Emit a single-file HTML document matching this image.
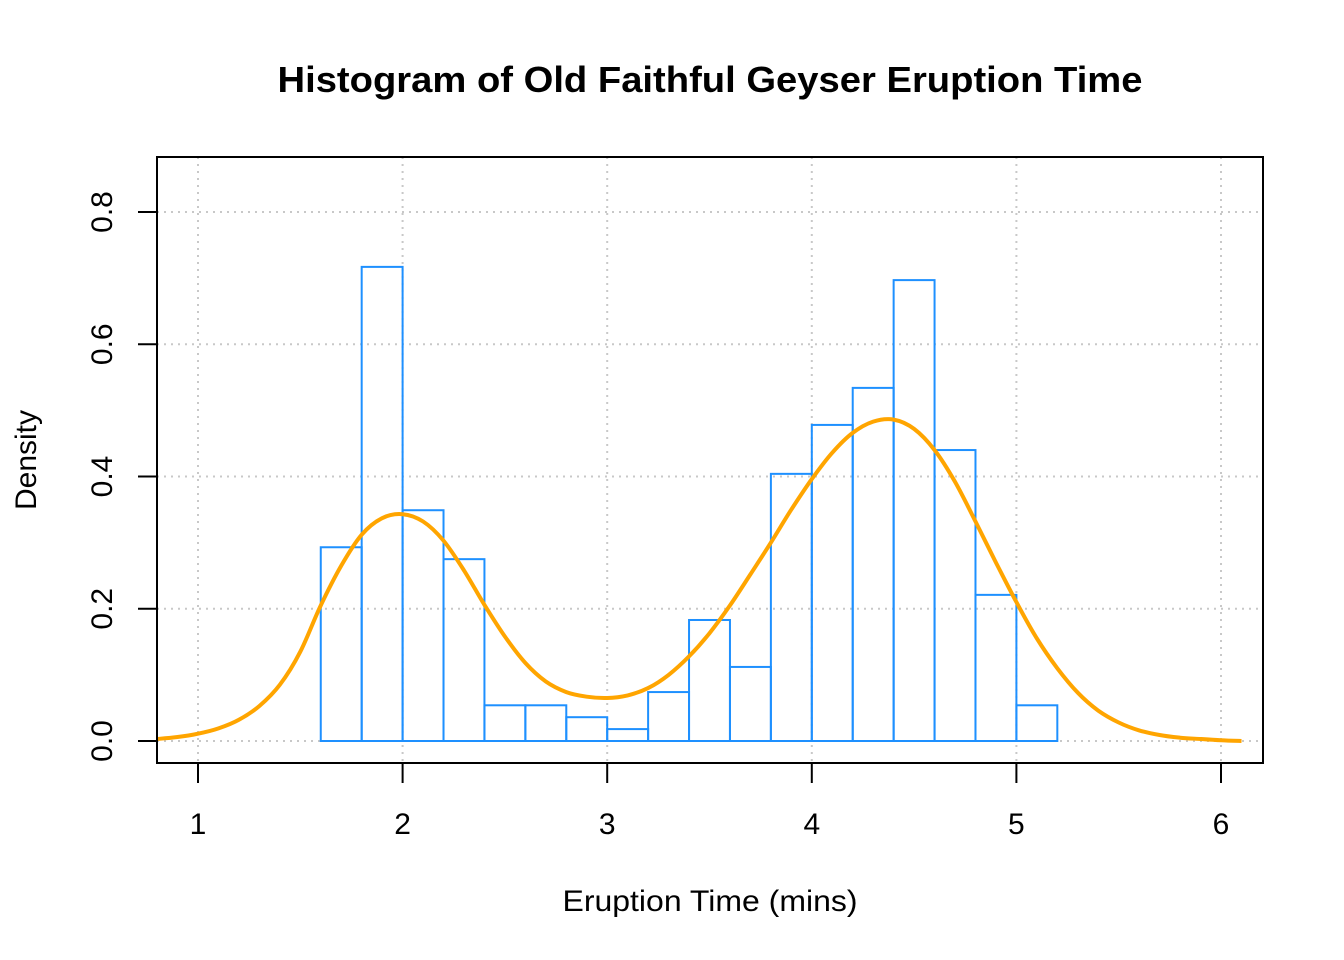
<!DOCTYPE html>
<html><head><meta charset="utf-8">
<style>
html,body{margin:0;padding:0;background:#fff;}
svg{display:block;font-family:"Liberation Sans",Arial,sans-serif;}
</style></head>
<body>
<svg id="chart" width="1344" height="960" viewBox="0 0 1344 960" xmlns="http://www.w3.org/2000/svg">
<text x="710" y="92" text-anchor="middle" font-size="36" font-weight="bold" textLength="865" lengthAdjust="spacingAndGlyphs">Histogram of Old Faithful Geyser Eruption Time</text>
<text x="710" y="911" text-anchor="middle" font-size="30" textLength="295" lengthAdjust="spacingAndGlyphs">Eruption Time (mins)</text>
<text transform="translate(36,460) rotate(-90)" text-anchor="middle" font-size="30">Density</text>
<g id="grid"></g>
<g id="bars"></g>
<g id="curve"></g>
<g id="axes"></g>
<rect x="157" y="157" width="1106" height="606" fill="none" stroke="#000" stroke-width="2"/>
</svg>
<script>
const binStarts = [1.6,1.8,2.0,2.2,2.4,2.6,2.8,3.0,3.2,3.4,3.6,3.8,4.0,4.2,4.4,4.6,4.8,5.0];
const binDensity = [0.293,0.717,0.349,0.275,0.054,0.054,0.036,0.018,0.074,0.183,0.112,0.404,0.478,0.534,0.697,0.440,0.221,0.054];
const binWidth = 0.2;
const curveX = [0.8,0.9,1.0,1.1,1.2,1.3,1.4,1.5,1.6,1.7,1.8,1.9,2.0,2.1,2.2,2.3,2.4,2.5,2.6,2.7,2.8,2.9,3.0,3.1,3.2,3.3,3.4,3.5,3.6,3.7,3.8,3.9,4.0,4.1,4.2,4.3,4.4,4.5,4.6,4.7,4.8,4.9,5.0,5.1,5.2,5.3,5.4,5.5,5.6,5.7,5.8,5.9,6.0,6.1];
const curveY = [0.003,0.006,0.011,0.019,0.032,0.053,0.085,0.135,0.205,0.265,0.312,0.337,0.343,0.332,0.303,0.258,0.206,0.158,0.118,0.090,0.074,0.067,0.065,0.069,0.080,0.100,0.128,0.163,0.205,0.252,0.300,0.350,0.396,0.436,0.466,0.483,0.486,0.472,0.440,0.392,0.332,0.270,0.210,0.155,0.110,0.073,0.046,0.028,0.016,0.009,0.005,0.003,0.001,0.000];
const xTicks = [1,2,3,4,5,6];
const yTicks = [0.0,0.2,0.4,0.6,0.8];
const yTickLabels = ["0.0","0.2","0.4","0.6","0.8"];

const NS="http://www.w3.org/2000/svg";
const sx = v => 198 + (v-1)*204.6;
const sy = v => 741 - v*661.25;
function mk(tag, attrs, parent){const e=document.createElementNS(NS,tag);for(const k in attrs)e.setAttribute(k,attrs[k]);parent.appendChild(e);return e;}
const grid=document.getElementById('grid'), bars=document.getElementById('bars'), curve=document.getElementById('curve'), axes=document.getElementById('axes');

xTicks.forEach(t=>{
  const g=mk('line',{x1:sx(t),x2:sx(t),y1:157,y2:763,stroke:'#c8c8c8','stroke-width':2,'stroke-dasharray':'2,5'},grid);
  
  
  const tk=mk('line',{x1:sx(t),x2:sx(t),y1:763,y2:783,stroke:'#000','stroke-width':2},axes);
  
  
  const tl=mk('text',{x:sx(t),y:834,'text-anchor':'middle','font-size':30},axes);
  tl.textContent=t;
  
  
});
yTicks.forEach((t,i)=>{
  const g=mk('line',{x1:157,x2:1263,y1:sy(t),y2:sy(t),stroke:'#c8c8c8','stroke-width':2,'stroke-dasharray':'2,5'},grid);
  
  
  const tk=mk('line',{x1:138,x2:157,y1:sy(t),y2:sy(t),stroke:'#000','stroke-width':2},axes);
  
  
  const tl=mk('text',{transform:`translate(112,${sy(t)}) rotate(-90)`,'text-anchor':'middle','font-size':30},axes);
  tl.textContent=yTickLabels[i];
  
  
});
binStarts.forEach((b,i)=>{
  const x=sx(b), w=sx(b+binWidth)-x, y=sy(binDensity[i]);
  const r=mk('rect',{x:x,y:y,width:w,height:sy(0)-y,fill:'none',stroke:'#1e90ff','stroke-width':2},bars);
  
  
});
// smooth curve via Catmull-Rom
const P=curveX.map((x,i)=>[sx(x),sy(curveY[i])]);
let d=`M${P[0][0].toFixed(1)},${P[0][1].toFixed(1)}`;
for(let i=0;i<P.length-1;i++){
  const p0=P[Math.max(0,i-1)],p1=P[i],p2=P[i+1],p3=P[Math.min(P.length-1,i+2)];
  const c1=[p1[0]+(p2[0]-p0[0])/6,p1[1]+(p2[1]-p0[1])/6];
  const c2=[p2[0]-(p3[0]-p1[0])/6,p2[1]-(p3[1]-p1[1])/6];
  d+=` C${c1[0].toFixed(1)},${c1[1].toFixed(1)} ${c2[0].toFixed(1)},${c2[1].toFixed(1)} ${p2[0].toFixed(1)},${p2[1].toFixed(1)}`;
}
const pl=mk('path',{d:d,fill:'none',stroke:'#ffa500','stroke-width':4,'stroke-linejoin':'round'},curve);


</script>
</body></html>
